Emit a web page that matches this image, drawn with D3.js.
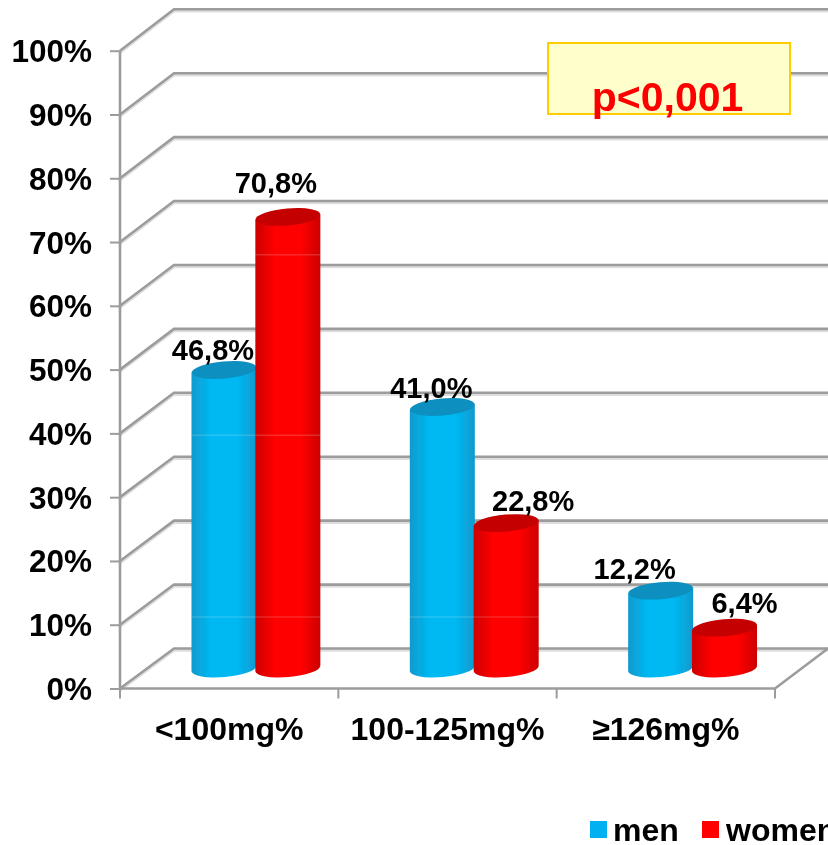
<!DOCTYPE html>
<html><head><meta charset="utf-8">
<script src="https://cdn.jsdelivr.net/npm/d3@7/dist/d3.min.js"></script>
<style>
html,body{margin:0;padding:0;background:#fff;overflow:hidden}
svg{display:block}
text{font-family:"Liberation Sans",Arial,sans-serif;font-weight:bold;fill:#000}
</style></head><body>
<svg id="c" width="828" height="845"></svg>
<script>
const categories = ["<100mg%", "100-125mg%", "≥126mg%"];
const seriesNames = ["men", "women"];
const men = [46.8, 41.0, 12.2];
const women = [70.8, 22.8, 6.4];
const yTicks = [0,10,20,30,40,50,60,70,80,90,100];
const seams = [11.2, 39.7, 68];
const seriesColors = {men:"#00b0f0", women:"#ff0000"};
const pLabel = "p<0,001";

const svg = d3.select("#c");
const W=828;
const x0=120,x1=775,y0=688.5,y1=50.7,dx=54,floorLift=20;
const y=d3.scaleLinear().domain([0,100]).range([y0,y1]);
const yBack=d3.scaleLinear().domain([0,100]).range([648.5,9.3]);
const x=d3.scaleBand().domain(categories).range([x0,x1]);
const xs=d3.scaleBand().domain(seriesNames).range([0.33,0.915].map(f=>f*x.bandwidth()));
const fmt=v=>v.toFixed(1).replace(".",",")+"%";

const defs=svg.append("defs");
defs.append("filter").attr("id","soft").append("feGaussianBlur").attr("stdDeviation",0.5);
const grad=(id,edge,mid)=>{
  const g=defs.append("linearGradient").attr("id",id);
  [[0,edge],[0.3,mid],[0.7,mid],[1,edge]].forEach(([o,c])=>g.append("stop").attr("offset",o).attr("stop-color",c));
};
grad("men","#0f9ace","#00b8f2");
grad("women","#cc0000","#ff0000");
const topColor={men:"#0a8fbf",women:"#c40000"};

const root=svg.append("g").attr("filter","url(#soft)");
const gray="#9c9c9c";

// walls and floor: a pale shadow under each line, then the line
const wallPath=v=>`M${x0},${y(v)}L${x0+dx},${yBack(v)}L${W},${yBack(v)}`;
const shadow=root.append("g").attr("fill","none").attr("stroke","#dedede").attr("stroke-width",2.5).attr("transform","translate(0,2)");
shadow.selectAll("path").data(yTicks).join("path").attr("d",wallPath);
const grid=root.append("g").attr("fill","none").attr("stroke",gray).attr("stroke-width",2.6);
grid.selectAll(".back").data(yTicks).join("path").attr("d",wallPath);
grid.append("path").attr("d",`M${x0},${y0}L${x1},${y0}L${x1+(W-x1)},${yBack(0)}`);
grid.append("path").attr("d",`M${x0},${y0}L${x0},${y1}`);

// axes
const ay=root.append("g").attr("transform",`translate(${x0},0)`)
  .call(d3.axisLeft(y).tickValues(yTicks).tickSize(10).tickPadding(18).tickFormat(d=>d+"%"));
ay.select(".domain").remove();
ay.selectAll("line").attr("stroke",gray).attr("stroke-width",2);
ay.selectAll("text").attr("font-size",31.5).attr("dy","0.35em").attr("fill","#000");

root.append("g").selectAll("line").data([...categories.map(c=>x(c)),x1]).join("line")
  .attr("x1",d=>d).attr("x2",d=>d).attr("y1",y0).attr("y2",y0+10)
  .attr("stroke",gray).attr("stroke-width",2);

const ax=root.append("g").attr("transform",`translate(0,${y0})`)
  .call(d3.axisBottom(x).tickSize(0).tickPadding(29));
ax.select(".domain").remove();
ax.selectAll("text").attr("font-size",32).attr("fill","#000");

// cylinders
const rx=32.5,ry=8.5,tilt=-5,slope=rx*Math.sin(-tilt*Math.PI/180);
const bars=root.append("g");
const centre=(s,i)=>x(categories[i])+xs(s)+xs.bandwidth()/2;
seriesNames.forEach((s,si)=>{
  const vals=si===0?men:women;
  const g=bars.append("g");
  const base=y(0)-floorLift;
  g.selectAll("path").data(vals).join("path").attr("fill",`url(#${s})`)
    .attr("d",(d,i)=>{
      const c=centre(s,i),t=y(d)-floorLift;
      return `M${c-rx},${t+slope}L${c+rx},${t-slope}L${c+rx},${base-slope}A${rx},${ry} ${tilt} 0 1 ${c-rx},${base+slope}Z`;
    });
  // faint seams across the cylinder bodies
  vals.forEach((d,i)=>{
    seams.filter(v=>v<d-2).forEach(v=>{
      g.append("line").attr("x1",centre(s,i)-rx).attr("x2",centre(s,i)+rx)
        .attr("y1",y(v)).attr("y2",y(v))
        .attr("stroke","#fff").attr("stroke-opacity",0.16).attr("stroke-width",1.5);
    });
  });
  g.selectAll("ellipse").data(vals).join("ellipse")
    .attr("rx",rx).attr("ry",ry).attr("fill",topColor[s])
    .attr("transform",(d,i)=>`translate(${centre(s,i)},${y(d)-floorLift}) rotate(${tilt})`);
});

// data labels
const labelDx={men:[-11,-11,-26],women:[-12,27,20]};
const labelDy={men:[-10,-9,-12],women:[-24,-12,-15]};
const labels=root.append("g");
seriesNames.forEach((s,si)=>{
  const vals=si===0?men:women;
  labels.selectAll(`.l${s}`).data(vals).join("text").attr("class",`l${s}`)
    .attr("text-anchor","middle").attr("font-size",29)
    .attr("x",(d,i)=>centre(s,i)+labelDx[s][i])
    .attr("y",(d,i)=>y(d)-floorLift+labelDy[s][i])
    .text(fmt);
});

// significance box
root.append("rect").attr("x",548).attr("y",43).attr("width",242).attr("height",71)
  .attr("fill","#ffffcc").attr("stroke","#ffcc00").attr("stroke-width",2);
root.append("text").attr("x",667.5).attr("y",111).attr("text-anchor","middle")
  .attr("font-size",41).style("fill","#ff0000").text(pLabel);

// legend
const legendX={men:590,women:702};
const legendTextX={men:613,women:726};
seriesNames.forEach(s=>{
  root.append("rect").attr("x",legendX[s]).attr("y",821).attr("width",17).attr("height",17).attr("fill",seriesColors[s]);
  root.append("text").attr("x",legendTextX[s]).attr("y",841).attr("font-size",32).text(s);
});
</script></body></html>
